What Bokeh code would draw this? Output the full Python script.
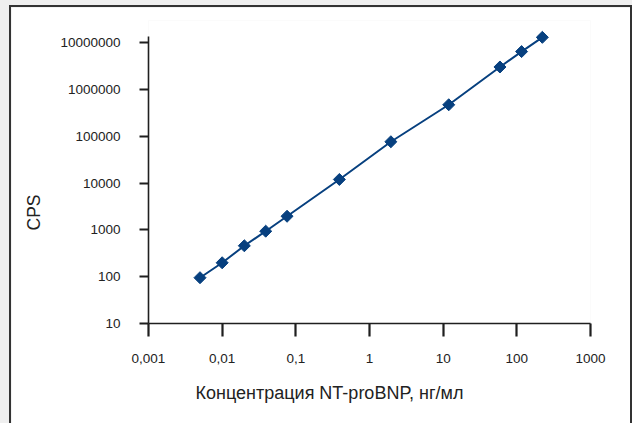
import math
from bokeh.plotting import figure
from bokeh.models import FixedTicker, Title, ColumnDataSource
from bokeh.layouts import column
from bokeh.embed import file_html
from bokeh.resources import INLINE

# NT-proBNP calibration curve (concentration, ng/ml -> CPS)
concentration = [0.005, 0.01, 0.02, 0.039, 0.076, 0.39, 1.95, 11.9, 59, 116, 222]
cps = [95, 198, 457, 935, 1950, 11900, 76000, 468000, 3.0e6, 6.4e6, 1.29e7]

x_ticks = [0.001, 0.01, 0.1, 1, 10, 100, 1000]
x_tick_labels = ["0,001", "0,01", "0,1", "1", "10", "100", "1000"]
y_ticks = [10, 100, 1000, 10000, 100000, 1000000, 10000000]
y_tick_labels = ["10", "100", "1000", "10000", "100000", "1000000", "10000000"]

x_title = "Концентрация NT-proBNP, нг/мл"
y_title = "CPS"

FONT = "Liberation Sans"
INK = "#1f1f1f"
BLUE = "#07407f"

p = figure(
    width=623, height=418,
    x_axis_type="log", y_axis_type="log",
    x_range=(0.001, 1000), y_range=(10, 2.95e7),
    output_backend="svg", toolbar_location=None,
    min_border_left=137, min_border_right=44,
    min_border_top=13, min_border_bottom=102,
)
p.margin = (5, 0, 0, 9)
p.styles = {
    "border-left": "2px solid #333333",
    "border-top": "2px solid #333333",
    "border-right": "2px solid #333333",
}
p.outline_line_color = None
p.background_fill_color = "white"
p.border_fill_color = "white"
p.grid.visible = False

for ax in (p.xaxis[0], p.yaxis[0]):
    ax.axis_line_color = INK
    ax.axis_line_width = 1.6
    ax.major_tick_line_color = INK
    ax.major_tick_line_width = 2.2
    ax.major_tick_in = 0
    ax.minor_tick_line_color = None
    ax.major_label_text_font = FONT
    ax.major_label_text_font_size = "13.5px"
    ax.major_label_text_color = "#222222"

p.xaxis.ticker = FixedTicker(ticks=x_ticks)
p.xaxis.major_label_overrides = {t: s for t, s in zip(x_ticks, x_tick_labels)}
p.xaxis.major_tick_out = 13
p.xaxis.major_label_standoff = 17

p.yaxis.ticker = FixedTicker(ticks=y_ticks)
p.yaxis.major_label_overrides = {t: s for t, s in zip(y_ticks, y_tick_labels)}
p.yaxis.major_tick_out = 9
p.yaxis.major_label_standoff = 19
p.yaxis.bounds = (10, 1.34e7)

src = ColumnDataSource(dict(x=concentration, y=cps))
p.line("x", "y", source=src, line_color=BLUE, line_width=2)
p.scatter("x", "y", source=src, marker="square", size=8.5, angle=math.pi / 4,
          fill_color=BLUE, line_color=BLUE, line_width=1)

# axis titles as side-panel titles, shifted along the axes
p.add_layout(Title(text=x_title, align="left", offset=47, standoff=33,
                   vertical_align="middle",
                   text_font=FONT, text_font_size="18px",
                   text_font_style="normal", text_color="#222222"), "below")
p.add_layout(Title(text=y_title, align="left", offset=93, standoff=24,
                   vertical_align="top",
                   text_font=FONT, text_font_size="17.5px",
                   text_font_style="normal", text_color="#222222"), "left")

page = column(p, styles={"background-color": "#efefef"})
open("out.html", "w").write(file_html(page, INLINE))
